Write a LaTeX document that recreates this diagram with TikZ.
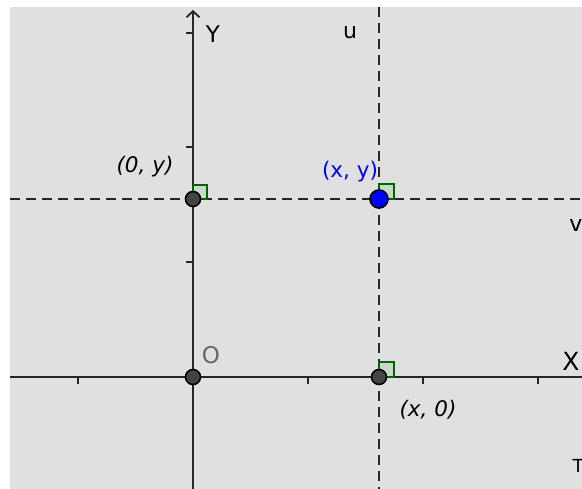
\documentclass[tikz,border=0pt]{standalone}
\usepackage{fontspec}
\setmainfont{DejaVu Sans}
\usetikzlibrary{arrows.meta}
\definecolor{bgc}{HTML}{E0E0E0}
\definecolor{ptgray}{HTML}{444444}
\definecolor{ragreen}{HTML}{006400}
\definecolor{ogray}{HTML}{666666}
\begin{document}
\begin{tikzpicture}[x=1pt,y=-1pt,
  axis/.style={line width=2.2pt,black!85},
  tick/.style={line width=2.2pt,black!85},
  dline/.style={line width=2.2pt,black!85,dash pattern=on 10pt off 6pt},
  ra/.style={draw=ragreen,line width=1.7pt,fill=green!40!gray,fill opacity=0.15},
  gpt/.style={circle,draw=black,line width=1.6pt,fill=ptgray,minimum size=15pt,inner sep=0pt},
  bpt/.style={circle,draw=black,line width=1.6pt,fill=blue,minimum size=18pt,inner sep=0pt},
  lbl/.style={inner sep=0pt,font=\fontsize{21.5}{24}\selectfont}
]
\useasboundingbox (0,0) rectangle (582,489);
\fill[bgc] (10,7) rectangle (582,489);
% frame coordinates
\coordinate (xl) at (10,377);
\coordinate (xr) at (582,377);
\coordinate (yb) at (193,489);
\coordinate (yt) at (193,10);
\coordinate (ut) at (379,7);
\coordinate (ub) at (379,489);
\coordinate (vl) at (10,199);
\coordinate (vr) at (582,199);
% dashed lines
\draw[dline] (ut) -- (ub);
\draw[dline] (vl) -- (vr);
% axes
\draw[axis] (xl) -- (xr);
\draw[axis,-{Straight Barb[length=6pt,width=13pt,line width=1.8pt]}] (yb) -- (yt);
% ticks
\foreach \x in {78,308,423,538} \draw[tick] (\x,377) -- (\x,384);
\foreach \y in {33,147,262} \draw[tick] (186,\y) -- (193,\y);
% right angle marks
\draw[ra] (193,199) rectangle ++(14,-14);
\draw[ra] (379,199) rectangle ++(15,-15);
\draw[ra] (379,377) rectangle ++(15,-15);
% points
\node[gpt] (O) at (193,377) {};
\node[gpt] (P0y) at (193,199) {};
\node[gpt] (Px0) at (379,377) {};
\node[bpt] (Pxy) at (379,199) {};
% labels
\node[lbl,font=\fontsize{23}{26}\selectfont] (Ylab) at (213,34) {Y};
\node[lbl,font=\fontsize{25}{28}\selectfont] (Xlab) at (571,361) {X};
\node[lbl,font=\fontsize{22}{26}\selectfont] (ulab) at (350,32) {u};
\node[lbl,font=\fontsize{22}{26}\selectfont] (vlab) at (576,225) {v};
\node[lbl,font=\fontsize{18}{22}\selectfont] (Tlab) at (578,466) {T};
\node[lbl,font=\fontsize{23}{26}\selectfont,text=ogray] (Olab) at (211,355) {O};
\node[lbl,font=\fontsize{21.5}{24}\selectfont\itshape] (l0y) at (145,167) {(0, y)};
\node[lbl,text=blue] (lxy) at (350,172) {(x, y)};
\node[lbl,font=\fontsize{21.5}{24}\selectfont\itshape] (lx0) at (428,410) {(x, 0)};
\end{tikzpicture}
\end{document}
